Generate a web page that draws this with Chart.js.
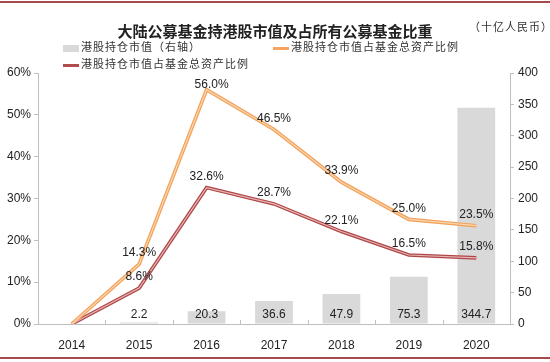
<!DOCTYPE html>
<html><head><meta charset="utf-8">
<script src="https://cdn.jsdelivr.net/npm/chart.js@4/dist/chart.umd.min.js"></script>
<style>
html,body{margin:0;padding:0;background:#fff;}
#wrap{position:relative;width:550px;height:362px;overflow:hidden;}
#c{position:absolute;left:0;top:0;}
.t{position:absolute;white-space:nowrap;color:#222;}
#title{left:0;width:550px;top:20px;text-align:center;font:bold 15px "Noto Sans CJK SC";}
#unit{left:469px;top:18px;font:11px "Noto Sans CJK SC";color:#333;letter-spacing:1px;}
.lg{position:absolute;font:11px "Noto Sans CJK SC";color:#333;white-space:nowrap;letter-spacing:1px;}
.sw{display:inline-block;vertical-align:middle;margin-right:2px;}
</style></head>
<body><div id="wrap">
<canvas id="c" width="550" height="362"></canvas>
<div class="t" id="title">大陆公募基金持港股市值及占所有公募基金比重</div>
<div class="t" id="unit">（十亿人民币）</div>
<div class="lg" style="left:63px;top:38px;"><span class="sw" style="width:16px;height:7px;background:#D9D9D9;"></span>港股持仓市值（右轴）</div>
<div class="lg" style="left:273px;top:38px;"><span class="sw" style="width:16px;height:3px;background:#F4A460;"></span>港股持仓市值占基金总资产比例</div>
<div class="lg" style="left:63px;top:55px;"><span class="sw" style="width:16px;height:3px;background:#B24C4C;"></span>港股持仓市值占基金总资产比例</div>
</div>
<script>
const categories = ['2014','2015','2016','2017','2018','2019','2020'];
const holdingValue = [null, 2.2, 20.3, 36.6, 47.9, 75.3, 344.7];
const ratioA = [0, 14.3, 56.0, 46.5, 33.9, 25.0, 23.5];
const ratioB = [0, 8.6, 32.6, 28.7, 22.1, 16.5, 15.8];
const leftTicks = [0,10,20,30,40,50,60];
const rightTicks = [0,50,100,150,200,250,300,350,400];

const LABEL_FONT = '12px "Liberation Sans", Arial, sans-serif';

const labelPlugin = {
  id: 'labels',
  beforeDraw(chart){
    const ctx = chart.ctx;
    ctx.save();
    ctx.strokeStyle = '#A34A4A';
    ctx.lineWidth = 2;
    ctx.beginPath(); ctx.moveTo(0,2); ctx.lineTo(550,2); ctx.stroke();
    ctx.beginPath(); ctx.moveTo(0,358); ctx.lineTo(550,358); ctx.stroke();
    ctx.restore();
  },
  afterDatasetsDraw(chart){
    const ctx = chart.ctx;
    const x = chart.scales.x, y = chart.scales.y, y1 = chart.scales.y1;
    ctx.save();
    ctx.strokeStyle = '#BFBFBF'; ctx.lineWidth = 1;
    for (let i = 0; i < categories.length - 1; i++) {
      const px = Math.round((x.getPixelForValue(i) + x.getPixelForValue(i+1)) / 2) + 0.5;
      ctx.beginPath(); ctx.moveTo(px, y.bottom); ctx.lineTo(px, y.bottom - 4); ctx.stroke();
    }
    ctx.font = LABEL_FONT; ctx.fillStyle = '#222'; ctx.textAlign = 'center'; ctx.textBaseline = 'middle';
    holdingValue.forEach((v,i)=>{
      if (v === null) return;
      ctx.fillText(v.toFixed(1), x.getPixelForValue(i), y1.getPixelForValue(0) - 9);
    });
    [ratioA, ratioB].forEach(arr=>{
      arr.forEach((v,i)=>{
        if (i === 0) return;
        let ly = y.getPixelForValue(v) - 11;
        let lx = x.getPixelForValue(i);
        if (ly < chart.chartArea.top + 12) { ly = chart.chartArea.top + 12; lx += 5; }
        ctx.fillText(v.toFixed(1)+'%', lx, ly);
      });
    });
    ctx.restore();
  }
};

new Chart(document.getElementById('c'), {
  data: {
    labels: categories,
    datasets: [
      {type:'bar', label:'港股持仓市值（右轴）', data: holdingValue, yAxisID:'y1', backgroundColor:'#D9D9D9', barPercentage:0.56, categoryPercentage:1, order:10},
      {type:'line', data: ratioA, yAxisID:'y', borderColor:'#F2A05A', borderWidth:3.6, pointRadius:0, tension:0, order:3},
      {type:'line', data: ratioA, yAxisID:'y', borderColor:'#FBD6AE', borderWidth:1.2, pointRadius:0, tension:0, order:2},
      {type:'line', data: ratioB, yAxisID:'y', borderColor:'#AE4848', borderWidth:3.6, pointRadius:0, tension:0, order:3},
      {type:'line', data: ratioB, yAxisID:'y', borderColor:'#E9B4B4', borderWidth:1.2, pointRadius:0, tension:0, order:2}
    ]
  },
  options: {
    responsive:false, animation:false,
    layout:{padding:{top:73,left:0,right:0,bottom:0}},
    plugins:{legend:{display:false}, title:{display:false}, tooltip:{enabled:false}},
    scales:{
      x:{offset:true, grid:{display:false}, border:{color:'#BFBFBF'},
         ticks:{font:{family:'"Liberation Sans", Arial, sans-serif', size:12}, color:'#222', padding:6},
         afterFit(s){ s.height = 38; }},
      y:{position:'left', min:0, max:60,
         afterBuildTicks(s){ s.ticks = leftTicks.map(v=>({value:v})); },
         grid:{drawOnChartArea:false, tickLength:4, color:'#BFBFBF'}, border:{color:'#BFBFBF'},
         ticks:{callback:v=>v+'%', font:{family:'"Liberation Sans", Arial, sans-serif', size:12}, color:'#222', padding:3},
         afterFit(s){ s.width = 38; }},
      y1:{position:'right', min:0, max:400,
         afterBuildTicks(s){ s.ticks = rightTicks.map(v=>({value:v})); },
         grid:{drawOnChartArea:false, tickLength:4, color:'#BFBFBF'}, border:{color:'#BFBFBF'},
         ticks:{font:{family:'"Liberation Sans", Arial, sans-serif', size:12}, color:'#222', padding:4},
         afterFit(s){ s.width = 40; }}
    }
  },
  plugins:[labelPlugin]
});
</script>
</body></html>
